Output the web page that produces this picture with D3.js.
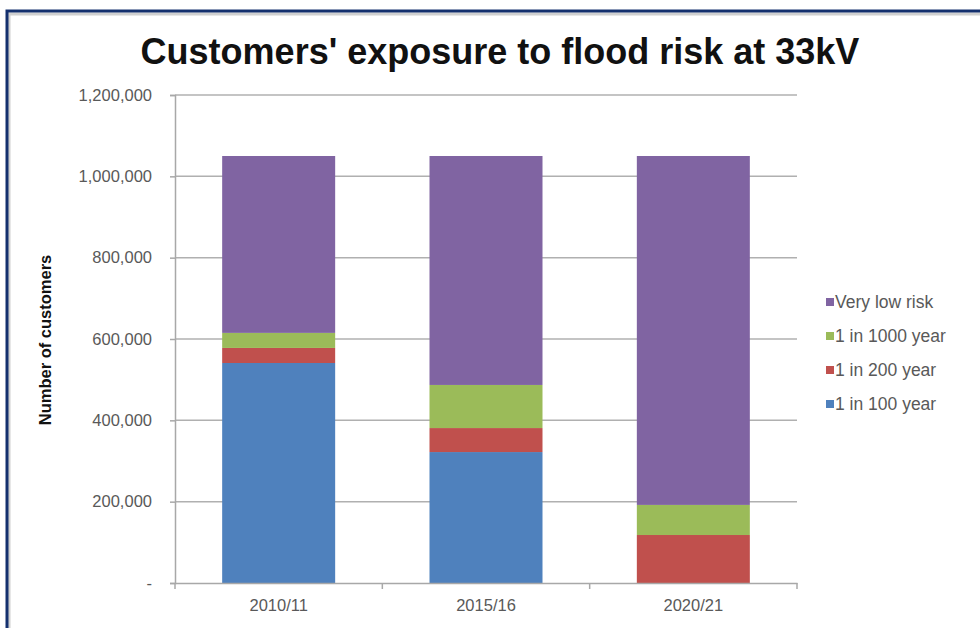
<!DOCTYPE html>
<html>
<head>
<meta charset="utf-8">
<script src="https://cdn.jsdelivr.net/npm/d3@7"></script>
<style>
  body { margin: 0; background: #fff; }
  svg { display: block; font-family: "Liberation Sans", Arial, sans-serif; }
</style>
</head>
<body>
<svg id="chart"></svg>
<script>
// Chart data
var years = ["2010/11", "2015/16", "2020/21"];
var series = ["1 in 100 year", "1 in 200 year", "1 in 1000 year", "Very low risk"];
var in100 = [541000, 322000, 0];
var in200 = [37000, 59000, 118000];
var in1000 = [37000, 106000, 74000];
var veryLow = [435000, 563000, 858000];
var yTicks = [0, 200000, 400000, 600000, 800000, 1000000, 1200000];
var colors = ["#4F81BD", "#C0504D", "#9BBB59", "#8064A2"];

var width = 980, height = 628;
var svg = d3.select("#chart").attr("width", width).attr("height", height);

// frame around the picture
svg.append("rect").attr("x", 0).attr("y", 0).attr("width", width).attr("height", height).style("fill", "#fff");
svg.append("rect").attr("x", 9).attr("y", 14).attr("width", 980).attr("height", 620)
    .style("fill", "none").style("stroke", "#d0d0d0").style("stroke-width", 3);
svg.append("rect").attr("x", 7).attr("y", 11).attr("width", 980).attr("height", 620)
    .style("fill", "none").style("stroke", "#14306e").style("stroke-width", 3);

var rows = years.map(function(y, i){
    return {year: y, "1 in 100 year": in100[i], "1 in 200 year": in200[i],
            "1 in 1000 year": in1000[i], "Very low risk": veryLow[i]};
});
var stacked = d3.stack().keys(series)(rows);

var x = d3.scaleBand().domain(years).range([175, 797]);
var y = d3.scaleLinear().domain([0, 1200000]).range([583, 95]);
var barW = x.bandwidth() * 0.545;

// gridlines
svg.append("g").selectAll("line").data(yTicks.filter(function(d){ return d > 0; }))
    .enter().append("line")
    .attr("x1", 175).attr("x2", 797)
    .attr("y1", function(d){ return y(d); }).attr("y2", function(d){ return y(d); })
    .style("stroke", "#b0b0b0").style("stroke-width", 1.5);

// bars
svg.append("g").selectAll("g").data(stacked).enter().append("g")
    .style("fill", function(d, i){ return colors[i]; })
    .selectAll("rect").data(function(d){ return d; })
    .enter().append("rect")
        .attr("x", function(d){ return x(d.data.year) + (x.bandwidth() - barW) / 2; })
        .attr("width", barW)
        .attr("y", function(d){ return y(d[1]); })
        .attr("height", function(d){ return y(d[0]) - y(d[1]); });

// y axis
var yAxis = svg.append("g").attr("transform", "translate(175,0)")
    .call(d3.axisLeft(y).tickValues(yTicks).tickSize(5).tickPadding(18)
        .tickFormat(function(d){ return d === 0 ? "-" : d3.format(",")(d); }));
yAxis.select(".domain").style("stroke", "#a8a8a8").style("stroke-width", 1.5);
yAxis.selectAll(".tick line").style("stroke", "#a8a8a8").style("stroke-width", 1.5);
yAxis.selectAll("text").style("font-size", "16.5px").style("fill", "#595959")
    .style("font-family", "Liberation Sans, Arial, sans-serif");

// x axis
var xAxis = svg.append("g").attr("transform", "translate(0,583)")
    .call(d3.axisBottom(x).tickSize(0).tickPadding(16));
xAxis.select(".domain").style("stroke", "#a8a8a8").style("stroke-width", 1.5);
xAxis.selectAll("text").style("font-size", "16.5px").style("fill", "#595959")
    .style("font-family", "Liberation Sans, Arial, sans-serif");
// category separators
svg.append("g").selectAll("line").data(x.domain().concat(["end"]))
    .enter().append("line")
    .attr("x1", function(d, i){ return 175 + i * x.step(); })
    .attr("x2", function(d, i){ return 175 + i * x.step(); })
    .attr("y1", 583).attr("y2", 589)
    .style("stroke", "#a8a8a8").style("stroke-width", 1.5);

// title
svg.append("text").attr("x", 500).attr("y", 64).attr("text-anchor", "middle")
    .style("font-size", "36px").style("font-weight", "bold").style("fill", "#111")
    .text("Customers' exposure to flood risk at 33kV");

// y axis title
svg.append("text").attr("transform", "translate(51,340) rotate(-90)")
    .attr("text-anchor", "middle")
    .style("font-size", "16.5px").style("font-weight", "bold").style("fill", "#111")
    .text("Number of customers");

// legend, top entry is the top of the stack
var legendY = [302, 336, 370, 404];
var legend = svg.append("g").selectAll("g").data(series.slice().reverse())
    .enter().append("g")
    .attr("transform", function(d, i){ return "translate(826," + legendY[i] + ")"; });
legend.append("rect").attr("x", 0).attr("y", -4).attr("width", 8).attr("height", 8)
    .style("fill", function(d){ return colors[series.indexOf(d)]; });
legend.append("text").attr("x", 9).attr("y", 6)
    .style("font-size", "17.5px").style("fill", "#595959")
    .text(function(d){ return d; });
</script>
</body>
</html>
